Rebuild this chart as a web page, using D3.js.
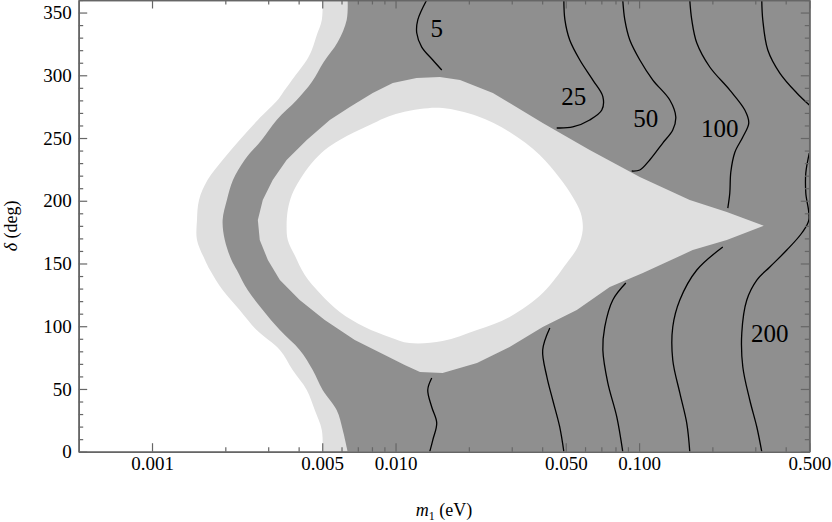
<!DOCTYPE html>
<html>
<head>
<meta charset="utf-8">
<script src="https://cdn.jsdelivr.net/npm/d3@7"></script>
<style>
body{margin:0;background:#fff;}
</style>
</head>
<body>
<div id="chart"></div>
<script>
// region edges, points are [m1 (eV), delta (deg)]
var outerWhiteEdge = [[0.00502,360],[0.00498,344.1],[0.00475,332.1],[0.00453,320.2],[0.00432,312.2],[0.00389,300.2],[0.00344,285.9],[0.00328,280.3],[0.00272,264.4],[0.00229,248.4],[0.00195,232.5],[0.00169,216.5],[0.00156,200.6],[0.00153,184.6],[0.00153,168.7],[0.00165,152.8],[0.00173,144.8],[0.00195,128.8],[0.00229,113.0],[0.00269,96.9],[0.00335,81.0],[0.00378,65.1],[0.00432,49.2],[0.00466,33.2],[0.00498,17.3],[0.00502,0]];
var outerDarkEdge = [[0.00636,360],[0.00630,344.1],[0.00579,326.5],[0.00507,310.6],[0.00453,294.6],[0.00393,280.3],[0.00325,264.4],[0.00282,248.4],[0.00240,232.5],[0.00215,216.5],[0.00203,200.6],[0.00195,184.6],[0.00199,168.7],[0.00212,152.8],[0.00223,144.8],[0.00247,128.8],[0.00285,113.0],[0.00335,96.9],[0.00404,81.0],[0.00457,65.1],[0.00502,49.2],[0.00573,33.2],[0.00607,17.3],[0.00636,0]];
var innerLightEdge = [[0.3252,180],[0.2292,191.0],[0.1615,200.6],[0.1007,218.9],[0.0627,240.5],[0.0402,262.0],[0.0251,285.9],[0.0184,296.2],[0.0152,298.6],[0.0122,297.8],[0.00974,293.8],[0.00806,285.9],[0.00649,274.7],[0.00537,264.4],[0.00432,248.4],[0.00357,232.5],[0.00313,216.5],[0.00285,200.6],[0.00272,184.6],[0.00277,168.7],[0.00299,152.8],[0.00335,136.8],[0.00404,120.9],[0.00512,104.9],[0.00680,89.0],[0.00903,77.1],[0.0109,69.1],[0.0126,63.5],[0.0156,62.7],[0.0216,70.7],[0.0294,83.4],[0.0402,99.4],[0.0555,113.0],[0.0758,131.2],[0.1036,142.4],[0.1661,160.7],[0.2292,168.7]];
var innerWhiteEdge = [[0.00357,180],[0.00361,192.6],[0.00375,204.5],[0.00404,216.5],[0.00453,230.1],[0.00512,240.5],[0.00590,248.4],[0.00680,254.8],[0.00783,260.4],[0.00903,266.0],[0.0104,269.9],[0.0126,273.1],[0.0156,273.9],[0.0216,267.5],[0.0294,254.8],[0.0391,236.5],[0.0472,218.1],[0.0534,203.0],[0.0576,190.2],[0.0587,176.7],[0.0560,163.1],[0.0505,150.4],[0.0402,126.5],[0.0294,107.4],[0.0216,96.9],[0.0156,88.2],[0.0114,86.6],[0.00947,91.3],[0.00747,99.4],[0.00590,111.4],[0.00488,126.5],[0.00424,140.8],[0.00385,156.7],[0.00361,168.7]];

// contour lines
var contours = [
  [[0.01343,360],[0.01234,344.1],[0.01222,333.7],[0.01281,322.5],[0.01422,312.2],[0.01548,304.2]],
  [[0.01408,58.7],[0.01356,49.2],[0.01408,35.6],[0.01476,22.9],[0.01422,9.3],[0.01382,0]],
  [[0.0491,360],[0.0496,344.1],[0.0519,328.1],[0.0571,312.2],[0.0646,296.2],[0.0710,283.0],[0.0703,272.3],[0.0627,264.4],[0.0534,258.8],[0.0459,258.0]],
  [[0.0430,98.6],[0.0402,81.0],[0.0418,59.8],[0.0442,41.2],[0.0472,19.9],[0.0491,0]],
  [[0.0857,360],[0.0874,344.1],[0.0916,328.1],[0.1007,312.2],[0.1139,296.2],[0.1337,280.3],[0.1415,266.8],[0.1375,256.4],[0.1251,246.0],[0.1106,232.5],[0.1007,224.5],[0.0933,223.7]],
  [[0.0882,134.4],[0.0780,120.9],[0.0723,99.4],[0.0710,81.0],[0.0744,54.8],[0.0810,27.7],[0.0857,0]],
  [[0.1615,360],[0.1646,344.1],[0.1726,325.7],[0.1951,306.6],[0.2358,288.2],[0.2717,272.3],[0.2821,262.0],[0.2667,250.8],[0.2472,238.5],[0.2380,222.7],[0.2358,206.2],[0.2314,194.2]],
  [[0.2207,163.1],[0.1726,144.8],[0.1470,120.9],[0.1375,99.4],[0.1375,73.1],[0.1470,46.8],[0.1570,22.6],[0.1615,0]],
  [[0.3190,360],[0.3221,344.1],[0.3377,320.2],[0.3783,301.8],[0.4441,285.9],[0.5,276.3]],
  [[0.5,238],[0.4837,222.1],[0.4837,206.2],[0.498,184.7],[0.4658,174.3],[0.4042,160.7],[0.3442,147.2],[0.3044,136.8],[0.2769,120.9],[0.2641,94.6],[0.2667,67.5],[0.2848,41.2],[0.3044,19.7],[0.3190,0]]
];
var contourLabels = ["5","25","50","100","200"];
var labelM1 = [0.01476,0.0539,0.1065,0.2145,0.3442];
var labelDelta = [337.7,283.5,265.9,257.9,94.4];

var xTicks = [0.001,0.005,0.01,0.05,0.1,0.5];
var xTickLabels = ["0.001","0.005","0.010","0.050","0.100","0.500"];
var xMinor = [0.002,0.003,0.004,0.006,0.007,0.008,0.009,0.02,0.03,0.04,0.06,0.07,0.08,0.09,0.2,0.3,0.4];
var yTicks = [0,50,100,150,200,250,300,350];
var yMinor = d3.range(0,361,10).filter(function(d){ return d%50!==0; });

var serif = "'Liberation Serif', 'Times New Roman', Tinos, Times, 'Nimbus Roman', 'DejaVu Serif', serif";

var svg = d3.select("#chart").append("svg").attr("width",832).attr("height",522)
    .style("font-family",serif),
    margin = {top: 0, left: 78.7},
    width = 730.6,
    height = 451.7;

var x = d3.scaleLog().domain([0.0005,0.5]).range([0,width]);
var y = d3.scaleLinear().domain([0,360]).range([height,0]);

var dark = "#8f8f8f", light = "#dfdfdf", axisCol = "#666";

var g = svg.append("g").attr("transform","translate("+margin.left+","+margin.top+")");

g.append("clipPath").attr("id","clip").append("rect").attr("width",width).attr("height",height);
var plot = g.append("g").attr("clip-path","url(#clip)");

plot.append("rect").attr("width",width).attr("height",height).attr("fill",dark);

var leftArea = d3.area().curve(d3.curveCatmullRom.alpha(0.5))
    .y(function(d){ return y(d[1]); })
    .x0(0)
    .x1(function(d){ return x(d[0]); });

plot.append("path").datum(outerDarkEdge).attr("d",leftArea).attr("fill",light);
plot.append("path").datum(outerWhiteEdge).attr("d",leftArea).attr("fill","#fff");

var closedLinear = d3.line().curve(d3.curveLinearClosed)
    .x(function(d){ return x(d[0]); }).y(function(d){ return y(d[1]); });
var closedSmooth = d3.line().curve(d3.curveCatmullRomClosed.alpha(0.5))
    .x(function(d){ return x(d[0]); }).y(function(d){ return y(d[1]); });

plot.append("path").datum(innerLightEdge).attr("d",closedLinear).attr("fill",light);
plot.append("path").datum(innerWhiteEdge).attr("d",closedSmooth).attr("fill","#fff");

var cline = d3.line().curve(d3.curveCatmullRom.alpha(0.5))
    .x(function(d){ return x(d[0]); }).y(function(d){ return y(d[1]); });

plot.selectAll(".contour").data(contours).enter().append("path")
    .attr("class","contour")
    .attr("d",cline)
    .attr("fill","none")
    .attr("stroke","#000")
    .attr("stroke-width",1.3);

plot.selectAll(".clabel").data(contourLabels).enter().append("text")
    .attr("class","clabel")
    .attr("x",function(d,i){ return x(labelM1[i]); })
    .attr("y",function(d,i){ return y(labelDelta[i]); })
    .attr("dy","0.35em")
    .attr("text-anchor","middle")
    .style("font-family",serif)
    .attr("font-size","25px")
    .attr("fill","#000")
    .text(function(d){ return d; });

// axes, ticks point inward on all four sides
function styleAxis(sel){
  sel.attr("font-family",null);
  sel.selectAll("path").attr("stroke",axisCol).attr("stroke-width",1.6);
  sel.selectAll("line").attr("stroke",axisCol).attr("stroke-width",1.2);
  sel.selectAll("text").style("font-family",serif).attr("font-size","19px").attr("fill","#000");
}

g.append("g").attr("transform","translate(0,"+height+")")
  .call(d3.axisBottom(x).tickValues(xMinor).tickSize(-4.5).tickSizeOuter(0).tickFormat(""))
  .call(styleAxis);
g.append("g").attr("transform","translate(0,"+height+")")
  .call(d3.axisBottom(x).tickValues(xTicks).tickSize(-8.5).tickSizeOuter(0).tickPadding(5)
    .tickFormat(function(d,i){ return xTickLabels[i]; }))
  .call(styleAxis);
g.append("g")
  .call(d3.axisTop(x).tickValues(xMinor).tickSize(-4.5).tickSizeOuter(0).tickFormat(""))
  .call(styleAxis);
g.append("g")
  .call(d3.axisTop(x).tickValues(xTicks).tickSize(-8.5).tickSizeOuter(0).tickFormat(""))
  .call(styleAxis);

g.append("g")
  .call(d3.axisLeft(y).tickValues(yMinor).tickSize(-4.5).tickSizeOuter(0).tickFormat(""))
  .call(styleAxis);
g.append("g")
  .call(d3.axisLeft(y).tickValues(yTicks).tickSize(-8.5).tickSizeOuter(0).tickPadding(7))
  .call(styleAxis);
g.append("g").attr("transform","translate("+width+",0)")
  .call(d3.axisRight(y).tickValues(yMinor).tickSize(-4.5).tickSizeOuter(0).tickFormat(""))
  .call(styleAxis);
g.append("g").attr("transform","translate("+width+",0)")
  .call(d3.axisRight(y).tickValues(yTicks).tickSize(-8.5).tickSizeOuter(0).tickFormat(""))
  .call(styleAxis);

// axis titles
var xt = svg.append("text")
  .attr("x",margin.left+width/2).attr("y",516)
  .style("font-family",serif)
  .attr("text-anchor","middle").attr("font-size","18px");
xt.append("tspan").attr("font-style","italic").text("m");
xt.append("tspan").attr("font-size","12px").attr("dy","4").text("1");
xt.append("tspan").attr("dy","-4").text(" (eV)");

var yt = svg.append("text")
  .attr("transform","translate(17,"+(margin.top+height/2)+") rotate(-90)")
  .style("font-family",serif)
  .attr("text-anchor","middle").attr("font-size","18px");
yt.append("tspan").attr("font-style","italic").text("δ");
yt.append("tspan").text(" (deg)");
</script>
</body>
</html>
